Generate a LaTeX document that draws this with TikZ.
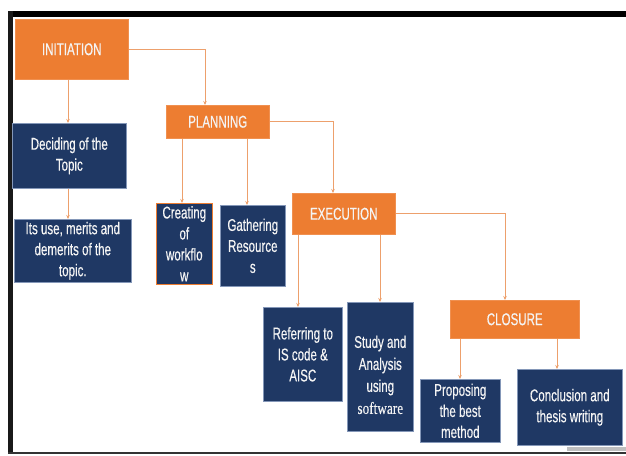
\documentclass[tikz,border=0pt]{standalone}
\usepackage{fontspec}
\setmainfont{Liberation Sans}[FakeStretch=0.68,FakeBold=0.35]
\newfontfamily\swserif{Liberation Serif}[FakeStretch=0.78,FakeBold=0.3]
\usetikzlibrary{arrows.meta}
\definecolor{navy}{HTML}{1F3864}
\definecolor{navyedge}{HTML}{8497B8}
\definecolor{orng}{HTML}{ED7D31}
\definecolor{conn}{HTML}{EDA06C}
\definecolor{txt}{HTML}{F4F4F4}
\tikzset{
  box/.style={anchor=north west, inner sep=0pt, align=center, text=txt,
    font=\fontsize{17}{21}\selectfont},
  nbox/.style={box, fill=navy, draw=navyedge, line width=0.6pt},
  obox/.style={box, fill=orng, draw=orng!85!white, line width=0.5pt},
  link/.style={draw=conn, line width=0.9pt, -{Stealth[length=4pt,width=3.5pt]}},
  plain/.style={draw=conn, line width=0.9pt}
}
\begin{document}
\begin{tikzpicture}[x=1pt,y=-1pt]
\useasboundingbox (0,0) rectangle (626,455);
% frame
\fill[black] (8,11) rectangle (626,17);
\fill[black!90] (8,11) rectangle (13,453);
\draw[black!80, line width=1.5pt] (8,453) -- (626,453);
\fill[black!25] (567,447) rectangle (626,451);

% orange phase boxes
\node[obox, minimum width=113pt, minimum height=60pt] (init) at (15,19) {INITIATION};
\node[obox, minimum width=103pt, minimum height=33pt] (plan) at (166,105) {PLANNING};
\node[obox, minimum width=103pt, minimum height=41pt] (exec) at (292,193) {EXECUTION};
\node[obox, minimum width=129pt, minimum height=38pt] (clos) at (450,300) {CLOSURE};

% navy boxes
\node[nbox, minimum width=114pt, minimum height=65pt] (dec) at (12,123) {Deciding of the\\Topic};
\node[nbox, minimum width=117pt, minimum height=63pt] (use) at (14,219) {Its use, merits and\\demerits of the\\topic.};
\node[nbox, draw=orng, minimum width=56pt, minimum height=81pt] (cre) at (156,203) {Creating\\of\\workflo\\w};
\node[nbox, minimum width=65pt, minimum height=81pt] (gat) at (220,205) {Gathering\\Resource\\s};
\node[nbox, minimum width=79pt, minimum height=94pt] (ref) at (263,307) {Referring to\\IS code \&\\AISC};
\node[nbox, minimum width=66pt, minimum height=129pt] (stu) at (347,302) {};
\node[box, anchor=center, font=\fontsize{17}{22}\selectfont] (stut) at ([yshift=-8pt]stu.center) {Study and\\Analysis\\using\\{\swserif software}};
\node[nbox, minimum width=80pt, minimum height=63pt] (pro) at (420,379) {Proposing\\the best\\method};
\node[nbox, minimum width=105pt, minimum height=76pt] (con) at (517,369) {Conclusion and\\thesis writing};

% connectors
\draw[link] (init.east) -| ([xshift=39pt]plan.north west);
\draw[link] (plan.east) -| ([xshift=41pt]exec.north west);
\draw[link] (exec.east) -| ([xshift=55pt]clos.north west);

\draw[link] ([xshift=53pt]init.south west) -- ([xshift=53pt]init.south west |- dec.north);
\draw[link] ([xshift=56pt]dec.south west) -- ([xshift=56pt]dec.south west |- use.north);

\draw[link] ([xshift=16pt]plan.south west) -- ([xshift=16pt]plan.south west |- cre.north);
\draw[link] ([xshift=81pt]plan.south west) -- ([xshift=81pt]plan.south west |- gat.north);

\draw[link] ([xshift=6pt]exec.south west) -- ([xshift=6pt]exec.south west |- ref.north);
\draw[link] ([xshift=88pt]exec.south west) -- ([xshift=88pt]exec.south west |- stu.north);

\draw[link] ([xshift=10pt]clos.south west) -- ([xshift=10pt]clos.south west |- pro.north);
\draw[link] ([xshift=107pt]clos.south west) -- ([xshift=107pt]clos.south west |- con.north);
\end{tikzpicture}
\end{document}
